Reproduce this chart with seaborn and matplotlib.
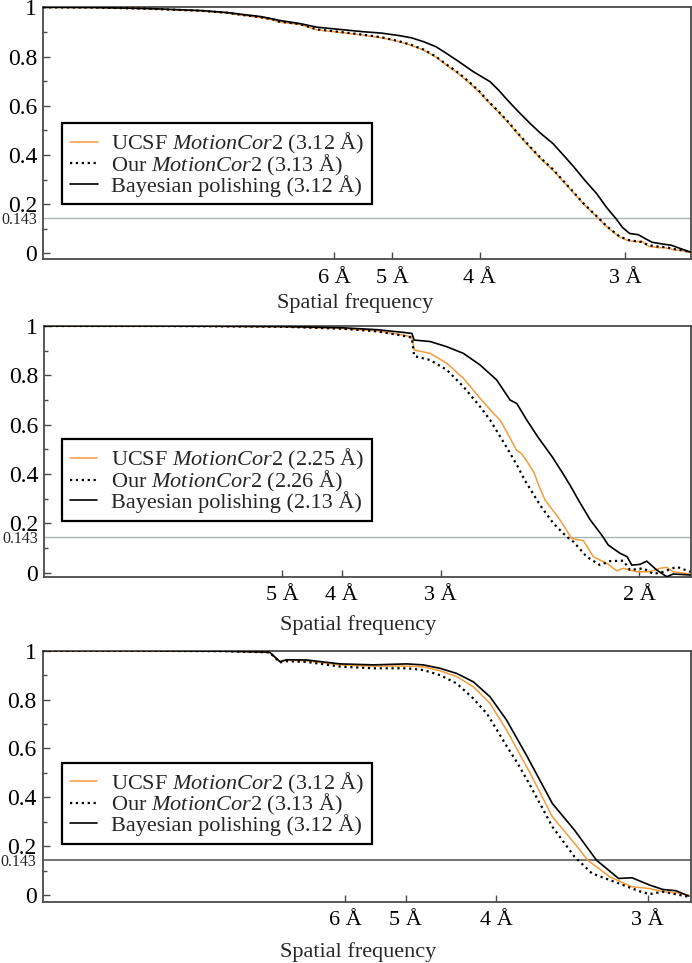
import matplotlib
matplotlib.use("Agg")
import matplotlib.pyplot as plt
import matplotlib.transforms as mtransforms
import seaborn as sns
import pandas as pd

# ---------------- data (spatial frequency in 1/Å, FSC) ----------------
# Panel A
a_ucsf_f = [0, 0.03, 0.06, 0.09, 0.105, 0.113, 0.125, 0.132, 0.135, 0.147, 0.157, 0.170, 0.183, 0.194,
            0.204, 0.211, 0.218, 0.225, 0.231, 0.238, 0.2445, 0.250, 0.254, 0.260, 0.266, 0.272, 0.279,
            0.285, 0.292, 0.298, 0.304, 0.310, 0.317, 0.323, 0.330, 0.335, 0.340, 0.343, 0.347, 0.352,
            0.357, 0.362, 0.367, 0.371]
a_ucsf_v = [1.0, 0.999, 0.994, 0.985, 0.977, 0.969, 0.958, 0.948, 0.940, 0.930, 0.908, 0.898, 0.887, 0.876,
            0.860, 0.845, 0.826, 0.798, 0.765, 0.730, 0.691, 0.655, 0.623, 0.580, 0.535, 0.485, 0.430,
            0.385, 0.339, 0.292, 0.245, 0.198, 0.150, 0.108, 0.068, 0.052, 0.047, 0.050, 0.028, 0.024,
            0.022, 0.014, 0.010, 0.002]
a_our_f = a_ucsf_f
a_our_v = [1.0, 0.999, 0.994, 0.986, 0.978, 0.970, 0.959, 0.950, 0.942, 0.932, 0.910, 0.900, 0.889, 0.878,
           0.862, 0.847, 0.828, 0.800, 0.768, 0.733, 0.694, 0.658, 0.626, 0.583, 0.538, 0.488, 0.433,
           0.388, 0.342, 0.295, 0.248, 0.200, 0.152, 0.110, 0.070, 0.055, 0.049, 0.046, 0.033, 0.028,
           0.025, 0.017, 0.012, 0.004]
a_bay_f = [0, 0.03, 0.06, 0.09, 0.105, 0.113, 0.125, 0.132, 0.135, 0.147, 0.157, 0.170, 0.183, 0.194,
           0.204, 0.211, 0.218, 0.225, 0.231, 0.238, 0.2465, 0.256, 0.261, 0.266, 0.272, 0.279, 0.285,
           0.292, 0.298, 0.304, 0.310, 0.317, 0.323, 0.328, 0.332, 0.336, 0.341, 0.345, 0.349, 0.355,
           0.360, 0.365, 0.371]
a_bay_v = [1.0, 0.999, 0.995, 0.987, 0.979, 0.972, 0.962, 0.952, 0.947, 0.934, 0.919, 0.910, 0.901, 0.895,
           0.885, 0.876, 0.860, 0.840, 0.813, 0.780, 0.738, 0.698, 0.663, 0.623, 0.578, 0.528, 0.488,
           0.447, 0.400, 0.352, 0.300, 0.244, 0.185, 0.143, 0.105, 0.081, 0.076, 0.060, 0.045, 0.038,
           0.033, 0.020, 0.005]

# Panel B
b_ucsf_f = [0, 0.10, 0.20, 0.25, 0.28, 0.30, 0.309, 0.311, 0.3244, 0.3384, 0.3524, 0.3664, 0.3776, 0.3832,
            0.390, 0.397, 0.401, 0.406, 0.412, 0.416, 0.421, 0.4336, 0.4434, 0.4532, 0.4616, 0.4729,
            0.4812, 0.4868, 0.498, 0.509, 0.5176, 0.5233, 0.5288, 0.543]
b_ucsf_v = [1.0, 1.0, 0.997, 0.990, 0.980, 0.965, 0.956, 0.903, 0.889, 0.849, 0.788, 0.707, 0.646, 0.619,
            0.560, 0.497, 0.484, 0.450, 0.403, 0.350, 0.295, 0.214, 0.139, 0.130, 0.065, 0.038,
            0.008, 0.018, 0.004, 0.004, 0.018, 0.022, 0.004, -0.005]
b_our_f = [0, 0.10, 0.20, 0.25, 0.28, 0.30, 0.309, 0.311, 0.3244, 0.3384, 0.3524, 0.3664, 0.3748, 0.386,
           0.397, 0.404, 0.4168, 0.428, 0.4392, 0.4448, 0.456, 0.4672, 0.4756, 0.4868, 0.4924, 0.5036,
           0.512, 0.5204, 0.5317, 0.543]
b_our_v = [1.0, 1.0, 0.997, 0.989, 0.978, 0.962, 0.953, 0.878, 0.862, 0.822, 0.754, 0.673, 0.619, 0.530,
           0.440, 0.375, 0.274, 0.200, 0.146, 0.126, 0.065, 0.031, 0.047, 0.049, 0.011, 0.018,
           -0.005, 0.004, 0.024, 0.004]
b_bay_f = [0, 0.10, 0.20, 0.25, 0.28, 0.30, 0.309, 0.311, 0.3244, 0.3384, 0.3524, 0.3664, 0.3804, 0.3916,
           0.3972, 0.4056, 0.415, 0.427, 0.435, 0.442, 0.449, 0.459, 0.4686, 0.4742, 0.484, 0.490,
           0.4939, 0.5008, 0.5065, 0.5149, 0.5233, 0.5288, 0.543]
b_bay_v = [1.0, 1.0, 0.998, 0.993, 0.985, 0.975, 0.970, 0.943, 0.937, 0.916, 0.889, 0.842, 0.781, 0.700,
           0.686, 0.619, 0.550, 0.470, 0.410, 0.355, 0.295, 0.214, 0.153, 0.112, 0.079, 0.065,
           0.031, 0.034, 0.047, 0.011, -0.016, -0.005, -0.009]

# Panel C
c_ucsf_f = [0, 0.05, 0.10, 0.125, 0.1307, 0.1344, 0.1455, 0.1638, 0.1822, 0.2006, 0.2097, 0.2189, 0.2281,
            0.2372, 0.2464, 0.2556, 0.2648, 0.2685, 0.2808, 0.293, 0.3003, 0.3124, 0.3247, 0.3344,
            0.3417, 0.3489, 0.356]
c_ucsf_v = [1.0, 1.0, 0.998, 0.994, 0.955, 0.961, 0.958, 0.942, 0.937, 0.937, 0.934, 0.918, 0.894,
            0.853, 0.785, 0.675, 0.550, 0.500, 0.321, 0.212, 0.143, 0.075, 0.034, 0.027,
            0.014, 0.010, 0.0]
c_our_f = [0, 0.05, 0.10, 0.125, 0.1307, 0.1344, 0.1455, 0.1638, 0.1822, 0.2006, 0.2097, 0.2189, 0.2281,
           0.2372, 0.245, 0.2556, 0.2612, 0.2685, 0.2808, 0.293, 0.3026, 0.3173, 0.3295, 0.3344,
           0.3417, 0.356]
c_our_v = [1.0, 1.0, 0.998, 0.993, 0.952, 0.957, 0.954, 0.935, 0.928, 0.928, 0.921, 0.900, 0.866,
           0.805, 0.740, 0.610, 0.545, 0.450, 0.280, 0.157, 0.089, 0.048, 0.014, 0.004,
           0.014, -0.007]
c_bay_f = [0, 0.05, 0.10, 0.125, 0.1307, 0.1344, 0.1455, 0.1638, 0.1822, 0.2006, 0.2097, 0.2189, 0.2281,
           0.2372, 0.2464, 0.2556, 0.2667, 0.2808, 0.293, 0.3051, 0.3173, 0.3247, 0.3344, 0.3417,
           0.3489, 0.356]
c_bay_v = [1.0, 1.0, 0.998, 0.994, 0.955, 0.963, 0.962, 0.946, 0.942, 0.946, 0.942, 0.928, 0.907,
           0.873, 0.812, 0.716, 0.570, 0.375, 0.266, 0.143, 0.068, 0.071, 0.041, 0.023,
           0.018, -0.004]

labels_a = ["UCSF $\\mathit{MotionCor2}$ (3.12 Å)", "Our $\\mathit{MotionCor2}$ (3.13 Å)",
            "Bayesian polishing (3.12 Å)"]
labels_b = ["UCSF $\\mathit{MotionCor2}$ (2.25 Å)", "Our $\\mathit{MotionCor2}$ (2.26 Å)",
            "Bayesian polishing (2.13 Å)"]
labels_c = labels_a

xtick_res_a = [6, 5, 4, 3]
xtick_res_b = [5, 4, 3, 2]
xtick_res_c = [6, 5, 4, 3]
ytick_vals = [0, 0.2, 0.4, 0.6, 0.8, 1]
ytick_labels = ["0", "0.2", "0.4", "0.6", "0.8", "1"]
fsc_threshold = 0.143

# ---------------- style ----------------
sns.set_style("ticks")
plt.rcParams["font.family"] = ["Liberation Serif", "DejaVu Serif"]
plt.rcParams["mathtext.fontset"] = "custom"
plt.rcParams["mathtext.rm"] = "Liberation Serif"
plt.rcParams["mathtext.it"] = "Liberation Serif:italic"

ORANGE = "#F39C3C"
SPINE = "#4a4a4a"

fig = plt.figure(figsize=(6.92, 9.63), dpi=100)
W, H = 692.0, 963.0

panels = [
    dict(left=43.3, right=691, top=7.3, bottom=259.3, ylow=-0.024, xmax=0.3712,
         curves=[(a_ucsf_f, a_ucsf_v), (a_our_f, a_our_v), (a_bay_f, a_bay_v)],
         labels=labels_a, res=xtick_res_a, thr_color="#aab4b4", thr_lw=1.0,
         leg=(62.3, 123), xlab=(355, 303)),
    dict(left=44.3, right=691, top=326, bottom=576.7, ylow=-0.016, xmax=0.5437,
         curves=[(b_ucsf_f, b_ucsf_v), (b_our_f, b_our_v), (b_bay_f, b_bay_v)],
         labels=labels_b, res=xtick_res_b, thr_color="#aab4b4", thr_lw=1.0,
         leg=(61.9, 439.3), xlab=(358, 625)),
    dict(left=42.7, right=691, top=650.7, bottom=901.7, ylow=-0.027, xmax=0.3572,
         curves=[(c_ucsf_f, c_ucsf_v), (c_our_f, c_our_v), (c_bay_f, c_bay_v)],
         labels=labels_c, res=xtick_res_c, thr_color="#5a5a5a", thr_lw=1.2,
         leg=(61.9, 762.7), xlab=(358, 951.7)),
]

styles = [dict(color=ORANGE, linestyle="-", linewidth=1.1),
          dict(color="black", linestyle=":", linewidth=1.6),
          dict(color="black", linestyle="-", linewidth=1.2)]

for p in panels:
    ax = fig.add_axes([p["left"] / W, 1 - p["bottom"] / H,
                       (p["right"] - p["left"]) / W, (p["bottom"] - p["top"]) / H])
    ax.axhline(fsc_threshold, color=p["thr_color"], lw=p["thr_lw"], zorder=1)
    for (f, v), lab, st in zip(p["curves"], p["labels"], styles):
        df = pd.DataFrame({"freq": f, "fsc": v})
        sns.lineplot(data=df, x="freq", y="fsc", ax=ax, label=lab, sort=False,
                     estimator=None, zorder=3, **st)
    ax.set_xlim(0, p["xmax"])
    ax.set_ylim(p["ylow"], 1.0)
    ax.set_xticks([1.0 / r for r in p["res"]])
    ax.set_xticklabels([f"{r} Å" for r in p["res"]])
    ax.set_yticks(ytick_vals)
    ax.set_yticklabels(ytick_labels)
    ax.set_yticks([0.1, 0.3, 0.5, 0.7, 0.9], minor=True)
    ax.tick_params(axis="both", which="major", direction="in", length=5, width=1.0,
                   color=SPINE, labelcolor="black")
    ax.tick_params(axis="y", which="major", pad=4.5, labelsize=17)
    ax.tick_params(axis="x", which="major", pad=7, labelsize=16)
    ax.tick_params(axis="y", which="minor", direction="in", length=3, width=1.0, color=SPINE)
    for s in ax.spines.values():
        s.set_color(SPINE)
        s.set_linewidth(1.3)
    ax.set_ylabel("")
    ax.set_xlabel("Spatial frequency", fontsize=16)
    ax.xaxis.set_label_coords((p["xlab"][0] - p["left"]) / (p["right"] - p["left"]),
                              (p["bottom"] - p["xlab"][1]) / (p["bottom"] - p["top"]))
    ax.xaxis.label.set_va("center")
    # small 0.143 label
    trans = mtransforms.blended_transform_factory(ax.transAxes, ax.transData)
    ax.text(-6.6 / (p["right"] - p["left"]), fsc_threshold - 0.006, "0.143", transform=trans,
            ha="right", va="center", fontsize=11.5)
    leg = ax.legend(loc="upper left",
                    bbox_to_anchor=((p["leg"][0] - p["left"]) / (p["right"] - p["left"]),
                                    (p["bottom"] - p["leg"][1]) / (p["bottom"] - p["top"])),
                    borderaxespad=0, fontsize=16, frameon=True, fancybox=False,
                    framealpha=1, edgecolor="black", handlelength=1.25, handletextpad=0.6,
                    labelspacing=-0.14, borderpad=0.35)
    leg.get_frame().set_linewidth(1.6)

fig.savefig("out.png", dpi=100)
